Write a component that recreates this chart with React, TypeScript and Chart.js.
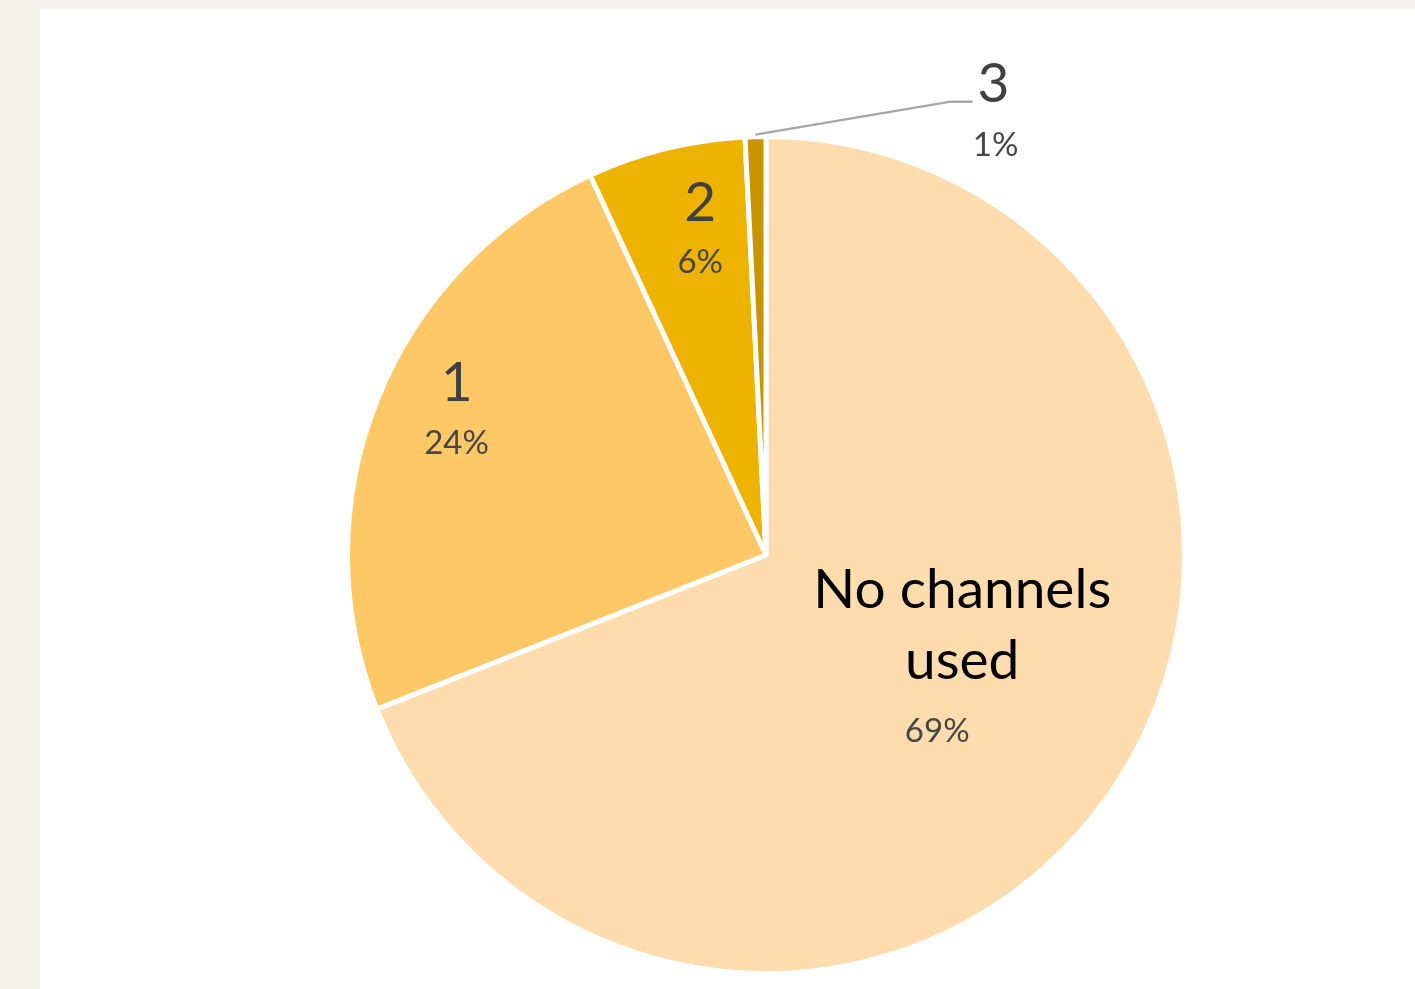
import React, { useEffect, useRef } from "react";
import { Chart, registerables } from "chart.js";

Chart.register(...registerables);

const categories = ["No channels used", "1", "2", "3"];
const shares = [69.0, 24.1, 6.1, 0.8];
const sliceColors = ["#fedcad", "#fec867", "#eeb300", "#c89500"];

// label layout (style only): fraction of radius for anchor + pixel offsets
const labelLayout = [
  { f: 0.5, nameLines: ["No channels", "used"], nameColor: "#000000", nameDx: 24, nameDy: [-82, -11], pctDx: -1, pctDy: 59, outside: false },
  { f: 0.8, nameLines: ["1"], nameColor: "#404040", nameDx: 0, nameDy: [-48], pctDx: 0, pctDy: 12, outside: false },
  { f: 0.8, nameLines: ["2"], nameColor: "#404040", nameDx: 14, nameDy: [-28], pctDx: 14, pctDy: 31, outside: false },
  { f: 1.0, nameLines: ["3"], nameColor: "#404040", nameDx: 238, nameDy: [-54], pctDx: 240, pctDy: 7, outside: true },
];

const FONT = "Lato, 'Open Sans', sans-serif";

const labelPlugin = {
  id: "sliceLabels",
  afterDatasetsDraw(chart: any) {
    const ctx = chart.ctx;
    const meta = chart.getDatasetMeta(0);
    const total = shares.reduce((a, b) => a + b, 0);
    meta.data.forEach((arc: any, i: number) => {
      const p = arc.getProps(["x", "y", "startAngle", "endAngle", "outerRadius"], true);
      const mid = (p.startAngle + p.endAngle) / 2;
      const lay = labelLayout[i];
      const r = p.outerRadius - 2;
      const ax = p.x + Math.cos(mid) * r * lay.f;
      const ay = p.y + Math.sin(mid) * r * lay.f;
      const pct = Math.round((shares[i] / total) * 100) + "%";
      ctx.save();
      if (lay.outside) {
        const sx = p.x + Math.cos(mid) * (r + 4);
        const sy = p.y + Math.sin(mid) * (r + 4);
        ctx.strokeStyle = "#a6a6a6";
        ctx.lineWidth = 2.5;
        ctx.beginPath();
        ctx.moveTo(sx, sy);
        ctx.lineTo(ax + 195, ay - 37);
        ctx.lineTo(ax + 217, ay - 37);
        ctx.stroke();
      }
      ctx.textAlign = "center";
      ctx.textBaseline = "middle";
      ctx.fillStyle = lay.nameColor;
      ctx.font = `55px ${FONT}`;
      lay.nameLines.forEach((ln: string, k: number) => {
        ctx.fillText(ln, ax + lay.nameDx, ay + lay.nameDy[k]);
      });
      ctx.fillStyle = "#464646";
      ctx.font = `33px ${FONT}`;
      ctx.fillText(pct, ax + lay.pctDx, ay + lay.pctDy);
      ctx.restore();
    });
  },
};

export default function App() {
  const ref = useRef<HTMLCanvasElement>(null);
  useEffect(() => {
    if (!ref.current) return;
    const chart = new Chart(ref.current, {
      type: "pie",
      data: {
        labels: categories,
        datasets: [
          {
            data: shares,
            backgroundColor: sliceColors,
            borderColor: "#ffffff",
            borderWidth: 5,
          },
        ],
      },
      options: {
        animation: false,
        responsive: false,
        layout: { padding: { top: 134, bottom: 13, left: 296, right: 179 } },
        plugins: { legend: { display: false }, tooltip: { enabled: false } },
      },
      plugins: [labelPlugin],
    });
    return () => chart.destroy();
  }, []);
  return (
    <div style={{ position: "fixed", left: 0, top: 0, width: 1415, height: 989, background: "#f4f1ec" }}>
      <div style={{ position: "absolute", left: 40, top: 9, right: 0, bottom: 0, background: "#ffffff" }} />
      <canvas ref={ref} width={1415} height={989} style={{ position: "absolute", left: 0, top: 0 }} />
    </div>
  );
}
